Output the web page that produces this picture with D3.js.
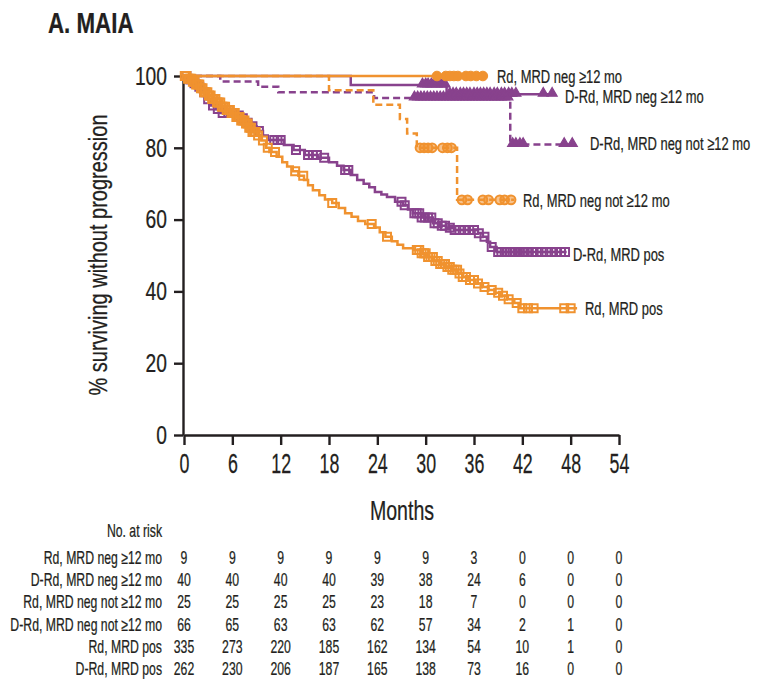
<!DOCTYPE html>
<html>
<head>
<meta charset="utf-8">
<script src="https://cdn.jsdelivr.net/npm/d3@7"></script>
<style>
  html, body { margin: 0; padding: 0; background: #fff; }
  svg { display: block; }
  text { font-family: "Liberation Sans", Arial, sans-serif; fill: #231f20; stroke: #231f20; stroke-width: 0.25px; }
</style>
</head>
<body>
<script>
// ---------------- DATA ----------------
const xTicks = [0, 6, 12, 18, 24, 30, 36, 42, 48, 54];
const yTicks = [0, 20, 40, 60, 80, 100];

const seriesNames = ["Rd, MRD neg ≥12 mo", "D-Rd, MRD neg ≥12 mo", "Rd, MRD neg not ≥12 mo",
                     "D-Rd, MRD neg not ≥12 mo", "Rd, MRD pos", "D-Rd, MRD pos"];

// step curves: [month, % surviving without progression]
const rdNeg12Steps = [[0, 100]];
const rdNeg12End = 37.3;
const rdNeg12Censor = [31.4, 32.5, 33.0, 33.5, 34.0, 35.0, 35.6, 36.3, 37.1];

const drdNeg12Steps = [[0, 100], [20.7, 97.5], [32.6, 94.9]];
const drdNeg12End = 45.8;
const drdNeg12Censor = [29.6, 30.0, 30.3, 30.7, 31.0, 31.4, 31.8, 32.1, 32.4,
  33.0, 33.4, 33.8, 34.3, 34.7, 35.1, 35.5, 36.0, 36.4, 36.8, 37.2, 37.6, 38.0,
  38.5, 38.9, 39.4, 39.8, 40.3, 40.7, 41.2, 44.6, 45.7];

const rdNegNotSteps = [[0, 100], [18.0, 96], [23.5, 92], [26.8, 88], [27.7, 84], [28.9, 80], [33.9, 65.5]];
const rdNegNotEnd = 41.0;
const rdNegNotCensor = [29.3, 29.8, 30.3, 30.8, 32.1, 32.7, 33.2, 34.5, 35.2, 37.1, 37.8, 39.2, 39.8, 40.6];

const drdNegNotSteps = [[0, 100], [4.5, 98.5], [9.2, 97.0], [11.7, 95.5], [23.6, 93.9], [40.5, 80.9]];
const drdNegNotEnd = 48.8;
const drdNegNotCensor = [28.6, 29.0, 29.4, 29.8, 30.2, 30.6, 31.0, 31.4, 31.8, 32.2,
  32.6, 33.0, 33.4, 33.8, 34.2, 34.6, 35.0, 35.4, 35.8, 36.2, 36.6, 37.0, 37.4, 37.8,
  38.2, 38.6, 39.0, 39.4, 39.8, 40.2, 40.8, 41.2, 41.7, 42.1, 47.2, 48.2];

const rdPosSteps = [[0, 100], [0.5, 99.2], [1.0, 98.4], [1.5, 97.6], [2.0, 96.6], [2.5, 95.5],
  [3.0, 94.6], [3.5, 93.6], [4.0, 92.6], [4.6, 91.4], [5.2, 90.5], [5.8, 89.7], [6.5, 88.6],
  [7.1, 87.6], [7.6, 86.8], [8.0, 85.6], [8.4, 84.4], [9.0, 83.4], [9.6, 82.0], [10.2, 80.0],
  [10.6, 78.8], [11.5, 77.5], [12.2, 76.0], [12.8, 74.8], [13.5, 73.5], [14.2, 72.2],
  [14.9, 71.0], [15.4, 69.6], [16.0, 68.2], [16.8, 66.8], [17.5, 65.6], [18.4, 64.6],
  [19.2, 63.2], [20.0, 61.8], [20.8, 60.8], [21.6, 59.6], [22.5, 58.8], [23.6, 57.8],
  [24.3, 56.5], [25.0, 55.2], [25.8, 54.0], [26.5, 53.0], [27.2, 52.0], [28.5, 51.5],
  [29.5, 50.6], [30.2, 49.6], [31.0, 48.5], [31.8, 47.6], [32.5, 46.8], [33.2, 46.0],
  [34.0, 45.0], [34.6, 44.0], [35.3, 43.2], [36.2, 42.2], [37.1, 41.2], [37.8, 40.4],
  [38.6, 39.6], [39.3, 38.8], [40.2, 37.8], [41.0, 36.8], [41.6, 35.3]];
const rdPosEnd = 48.8;
const rdPosCensor = [0.1, 0.3, 0.5, 0.7, 0.9, 1.1, 1.3, 1.5, 1.7, 1.9, 2.1, 2.3, 2.5, 2.7,
  2.9, 3.1, 3.3, 3.5, 3.7, 3.9, 4.1, 4.3, 4.5, 4.7, 4.9, 5.1, 5.3, 5.5, 5.7, 5.9, 6.1,
  6.3, 6.5, 6.7, 6.9, 7.1, 7.3, 7.5, 7.7, 7.9, 8.1, 8.3, 8.5, 8.7, 8.9, 9.2, 9.8,
  10.4, 11.3, 13.8, 14.8, 18.4, 23.3, 25.2, 28.9, 29.2, 29.5, 29.8, 30.0, 30.3, 30.6,
  30.9, 31.2, 31.5, 31.8, 32.1, 32.4, 32.7, 33.0, 33.3, 33.6, 33.9, 34.2, 34.6, 35.0,
  35.5, 36.0, 36.5, 37.3, 38.2, 39.0, 39.6, 40.3, 41.3, 42.0, 42.7, 43.4, 47.2, 48.0];

const drdPosSteps = [[0, 100], [0.5, 99.0], [1.0, 98.0], [1.6, 97.0], [2.2, 95.5], [2.8, 93.5],
  [3.3, 91.8], [4.0, 90.8], [4.6, 89.7], [6.3, 89.0], [7.0, 88.2], [7.6, 87.0], [8.2, 86.0],
  [9.0, 84.7], [9.8, 83.4], [10.4, 82.2], [12.4, 80.8], [13.6, 79.4], [15.0, 78.0],
  [16.6, 77.2], [18.0, 76.0], [19.0, 75.0], [19.8, 73.8], [20.7, 72.4], [21.5, 71.0],
  [22.3, 70.0], [23.0, 69.0], [23.7, 67.7], [24.5, 67.0], [25.2, 66.3], [26.2, 65.0],
  [27.2, 64.0], [27.8, 62.8], [28.4, 61.8], [29.5, 60.6], [30.9, 59.0], [31.8, 58.3],
  [32.6, 57.7], [33.5, 57.1], [36.5, 56.2], [37.1, 55.2], [37.6, 53.8], [38.0, 52.4],
  [38.8, 51.0]];
const drdPosEnd = 47.5;
const drdPosCensor = [0.3, 0.8, 1.3, 1.9, 2.5, 3.0, 3.6, 4.2, 4.8, 5.5, 6.0, 6.8, 7.3, 7.9,
  8.5, 9.3, 11.2, 11.6, 12.0, 13.9, 15.4, 16.0, 16.5, 17.4, 20.0, 20.4, 27.0, 27.4, 28.6,
  28.9, 29.2, 29.5, 29.9, 30.3, 30.7, 31.1, 31.5, 32.0, 32.4, 33.0, 33.6, 34.2, 34.8,
  35.4, 36.0, 36.6, 37.3, 38.2, 39.0, 39.4, 39.8, 40.1, 40.5, 40.8, 41.1, 41.4, 41.7,
  42.0, 42.3, 42.6, 43.2, 43.8, 44.4, 45.0, 45.6, 46.2, 46.8, 47.3];

// number at risk
const riskCounts = [
  [9, 9, 9, 9, 9, 9, 3, 0, 0, 0],
  [40, 40, 40, 40, 39, 38, 24, 6, 0, 0],
  [25, 25, 25, 25, 23, 18, 7, 0, 0, 0],
  [66, 65, 63, 63, 62, 57, 34, 2, 1, 0],
  [335, 273, 220, 185, 162, 134, 54, 10, 1, 0],
  [262, 230, 206, 187, 165, 138, 73, 16, 0, 0]
];

// ---------------- STYLE / LAYOUT ----------------
const ORANGE = "#F0922F";
const PURPLE = "#88428D";
const INK = "#231f20";
const W = 761, H = 687;

const x = d3.scaleLinear().domain([0, 54]).range([184, 619]);
const y = d3.scaleLinear().domain([0, 100]).range([435, 76]);

const svg = d3.select("body").append("svg").attr("width", W).attr("height", H);

function txt(parent, px, py, str, size, sx, anchor, opts = {}) {
  const t = parent.append("text")
    .attr("transform", `translate(${px},${py})${opts.rotate ? ` rotate(${opts.rotate})` : ""} scale(${sx},1)`)
    .attr("text-anchor", anchor)
    .style("font-size", size + "px")
    .text(str);
  if (opts.weight) t.style("font-weight", opts.weight);
  return t;
}

// title
txt(svg, 48, 33, "A. MAIA", 29, 0.77, "start", { weight: "bold" });

// axes
const yAxis = svg.append("g").attr("transform", `translate(${x(0) - 1},0)`)
  .call(d3.axisLeft(y).tickValues(yTicks).tickSize(9).tickSizeOuter(0).tickPadding(7));
const xAxis = svg.append("g").attr("transform", `translate(0,${y(0)})`)
  .call(d3.axisBottom(x).tickValues(xTicks).tickSize(10).tickSizeOuter(0).tickPadding(9));

[yAxis, xAxis].forEach(g => {
  g.select(".domain").attr("stroke", INK).attr("stroke-width", 2.4);
  g.selectAll(".tick line").attr("stroke", INK).attr("stroke-width", 2.4);
  g.selectAll(".tick text").attr("fill", INK).attr("stroke", INK).attr("stroke-width", 0.25)
    .style("font-family", '"Liberation Sans", Arial, sans-serif');
});
yAxis.selectAll(".tick text").style("font-size", "26px")
  .attr("x", -16 / 0.74).attr("transform", "scale(0.74,1)");
xAxis.selectAll(".tick text").style("font-size", "27px")
  .attr("transform", "scale(0.66,1)");

// axis titles
txt(svg, 402, 520, "Months", 28, 0.7, "middle");
txt(svg, 107, 255, "% surviving without progression", 25, 0.8, "middle", { rotate: -90 });

// ---------------- CURVES ----------------
const line = d3.line().x(d => x(d[0])).y(d => y(d[1])).curve(d3.curveStepAfter);
const bis = d3.bisector(d => d[0]).right;
function survAt(steps, t) { return steps[Math.max(0, bis(steps, t) - 1)][1]; }

const series = [
  { steps: drdNegNotSteps, end: drdNegNotEnd, censor: drdNegNotCensor, color: PURPLE, dash: "7,4", marker: "tri" },
  { steps: drdNeg12Steps, end: drdNeg12End, censor: drdNeg12Censor, color: PURPLE, dash: null, marker: "tri" },
  { steps: drdPosSteps, end: drdPosEnd, censor: drdPosCensor, color: PURPLE, dash: null, marker: "sq" },
  { steps: rdNegNotSteps, end: rdNegNotEnd, censor: rdNegNotCensor, color: ORANGE, dash: "7,4", marker: "circOpen" },
  { steps: rdNeg12Steps, end: rdNeg12End, censor: rdNeg12Censor, color: ORANGE, dash: null, marker: "circ" },
  { steps: rdPosSteps, end: rdPosEnd, censor: rdPosCensor, color: ORANGE, dash: null, marker: "sq" }
];

const plot = svg.append("g");
series.forEach(s => {
  const pts = s.steps.concat([[s.end, s.steps[s.steps.length - 1][1]]]);
  plot.append("path").attr("d", line(pts))
    .attr("fill", "none").attr("stroke", s.color).attr("stroke-width", 2.5)
    .attr("stroke-dasharray", s.dash);
  const g = plot.append("g");
  s.censor.forEach(t => {
    const cx = x(t), cy = y(survAt(s.steps, t));
    if (s.marker === "sq") {
      g.append("path").attr("d", d3.symbol().type(d3.symbolSquare).size(64)())
        .attr("transform", `translate(${cx},${cy})`)
        .attr("fill", "none").attr("stroke", s.color).attr("stroke-width", 2);
    } else if (s.marker === "tri") {
      g.append("path").attr("d", d3.symbol().type(d3.symbolTriangle).size(44)())
        .attr("transform", `translate(${cx},${cy - 1})`)
        .attr("fill", s.color).attr("stroke", s.color).attr("stroke-width", 1.2);
    } else if (s.marker === "circ") {
      g.append("circle").attr("cx", cx).attr("cy", cy).attr("r", 4.8)
        .attr("fill", s.color).attr("stroke", s.color).attr("stroke-width", 1);
    } else {
      g.append("circle").attr("cx", cx).attr("cy", cy).attr("r", 4.4)
        .attr("fill", s.color).attr("fill-opacity", 0.55).attr("stroke", s.color).attr("stroke-width", 2);
    }
  });
});

// curve labels
const labelPos = [
  [497, 83], [565, 103], [523, 207], [590, 150], [585, 315], [573, 261]
];
seriesNames.forEach((n, i) => txt(svg, labelPos[i][0], labelPos[i][1], n, 18.5, 0.7, "start"));

// ---------------- RISK TABLE ----------------
txt(svg, 162, 537, "No. at risk", 17.5, 0.7, "end");
const rowY = [564, 586, 608, 631, 653, 675];
seriesNames.forEach((n, i) => {
  txt(svg, 162, rowY[i], n, 17.5, 0.7, "end");
  riskCounts[i].forEach((c, j) => txt(svg, x(xTicks[j]), rowY[i], String(c), 17.5, 0.7, "middle"));
});
</script>
</body>
</html>
